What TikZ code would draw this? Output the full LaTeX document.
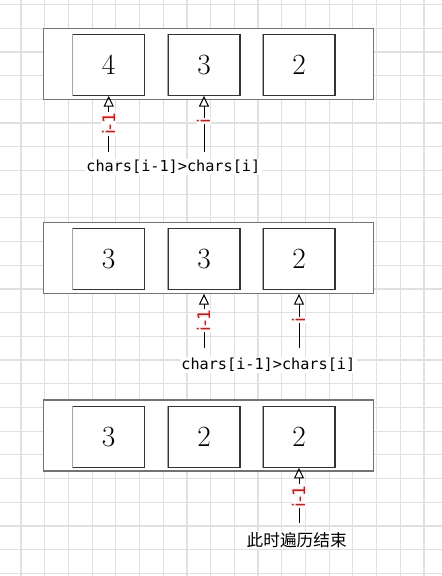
\documentclass[tikz,border=0pt]{standalone}
\usepackage{fontspec}
\usetikzlibrary{arrows.meta}
\newfontfamily\monofont{DejaVu Sans Mono}
\newfontfamily\lblfont{DejaVu Sans}
\newfontfamily\cjkfont{Noto Sans CJK SC}
\begin{document}
\begin{tikzpicture}[x=0.75pt,y=-0.75pt,
  gridl/.style={draw=black!12,line width=0.9pt},
  outer/.style={draw=black!55,fill=white,line width=0.9pt,minimum width=247.5pt,minimum height=53.25pt,inner sep=0pt},
  cell/.style={draw=black!80,fill=white,line width=0.8pt,minimum width=54pt,minimum height=45.75pt,inner sep=0pt,font=\fontsize{22}{22}\selectfont},
  arr/.style={draw=black,line width=0.75pt,-{Triangle[open,length=8pt,width=7.5pt]}},
  lbl/.style={rotate=90,text=red,fill=white,inner sep=0.5pt,font=\lblfont\fontsize{13}{14}\selectfont},
  code/.style={fill=white,inner sep=1pt,font=\monofont\fontsize{11.4}{12}\selectfont},
  cjk/.style={fill=white,inner sep=1pt,font=\cjkfont\fontsize{12.5}{14}\selectfont}]
\fill[white] (0,0) rectangle (442,576);
\useasboundingbox (0,0) rectangle (442,576);
\foreach \k in {0,...,18} \draw[gridl] (21+23.7*\k,0) -- (21+23.7*\k,576);
\foreach \k in {0,...,24} \draw[gridl] (0,4.5+23.7*\k) -- (442,4.5+23.7*\k);
% panel 1
\node[outer] (r1) at (208.3,63.65) {};
\node[cell] (c11) at (108.7,64.8) {4};
\node[cell] (c12) at (204,64.8) {3};
\node[cell] (c13) at (299,64.8) {2};
% panel 2
\node[outer] (r2) at (208.3,257.8) {};
\node[cell] (c21) at (108.7,259.2) {3};
\node[cell] (c22) at (204,259.2) {3};
\node[cell] (c23) at (299,259.2) {2};
% panel 3
\node[outer] (r3) at (208.3,435.5) {};
\node[cell] (c31) at (108.7,436.7) {3};
\node[cell] (c32) at (204,436.7) {2};
\node[cell] (c33) at (299,436.7) {2};
% left-edge highlight of cells
\foreach \c in {c11,c12,c13,c21,c22,c23,c31,c32,c33}
  \draw[black!35,line width=0.8pt] (\c.south west) -- (\c.north west);
% arrows
\coordinate (a11) at (108.7,152);
\coordinate (a12) at (204,152);
\draw[arr] (a11) -- (c11.south) node[lbl,pos=0.5] {i-1};
\draw[arr] (a12) -- (c12.south) node[lbl,pos=0.55] {i};
\coordinate (a22) at (204,348.3);
\coordinate (a23) at (299,348.3);
\draw[arr] (a22) -- (a22 |- r2.south) node[lbl,pos=0.51] {i-1};
\draw[arr] (a23) -- (a23 |- r2.south) node[lbl,pos=0.52] {i};
\coordinate (a33) at (299,523.3);
\draw[arr] (a33) -- (c33.south) node[lbl,pos=0.49] {i-1};
% texts
\node[code] (t1) at (173.3,166.7) {chars[i-1]>chars[i]};
\node[code] (t2) at (268.3,365) {chars[i-1]>chars[i]};
\node[cjk] (t3) at (296.7,540) {此时遍历结束};
\end{tikzpicture}
\end{document}
